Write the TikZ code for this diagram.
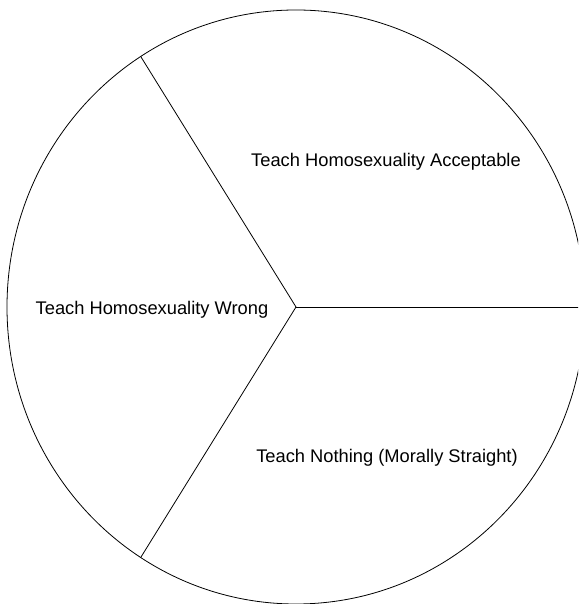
\documentclass[tikz,border=0pt]{standalone}
\usepackage{fontspec}
\setmainfont{Liberation Sans}
\usepackage{tikz}
\usetikzlibrary{positioning,calc}

\begin{document}
\begin{tikzpicture}[x=1pt, y=1pt, line width=0.8pt,
    slicetext/.style={inner sep=0pt, font=\fontsize{18.3}{22}\selectfont}]
    \useasboundingbox (0,0) rectangle (578,604);
    \clip (0,0) rectangle (578,604);
    \coordinate (hub) at (296,297);
    \draw (hub) ellipse [x radius=289, y radius=297];
    \coordinate (accept) at ($(hub)+(122.5:289 and 297)$);
    \coordinate (nothing) at ($(hub)+(237.5:289 and 297)$);
    \coordinate (east) at ($(hub)+(0:289 and 297)$);
    \draw (hub) -- (accept);
    \draw (hub) -- (nothing);
    \draw (hub) -- (east);
    \node (acceptable) [slicetext] at (386,442) {Teach Homosexuality Acceptable};
    \node (wrong) [slicetext] at (152,294) {Teach Homosexuality Wrong};
    \node (straight) [slicetext] at (387,146) {Teach Nothing (Morally Straight)};
  \end{tikzpicture}
\end{document}
